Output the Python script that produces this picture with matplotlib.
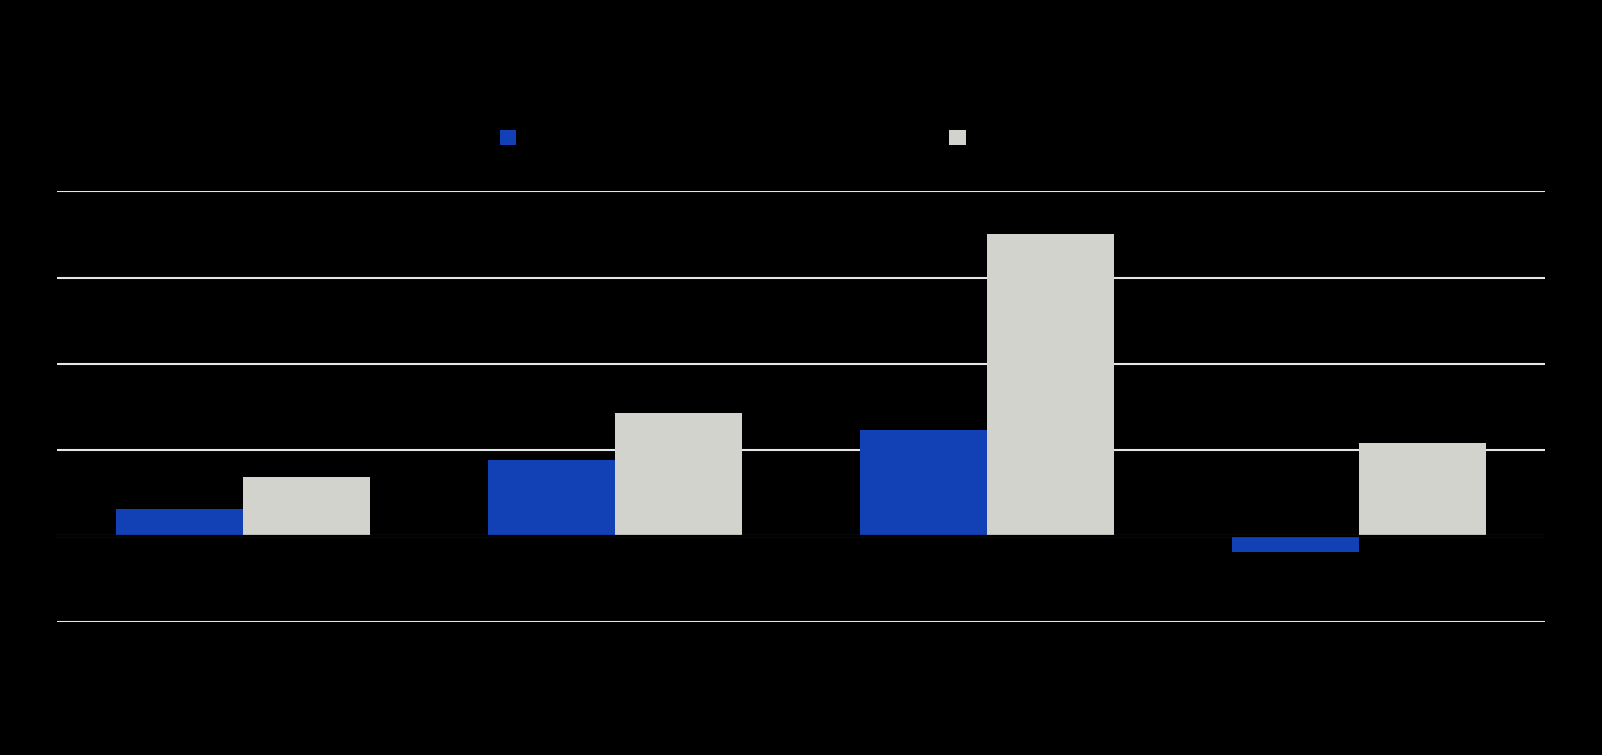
import matplotlib
matplotlib.use("Agg")
import matplotlib.pyplot as plt
import numpy as np

# data (text in the reference is black on black)
categories = ["Q1", "Q2", "Q3", "Q4"]
series_names = ["Series A", "Series B"]
series_a = [1.56, 4.41, 6.19, -0.89]
series_b = [3.46, 7.14, 17.56, 5.42]
yticks = [-5, 0, 5, 10, 15, 20]

BLUE = "#1141b4"
GREY = "#d2d3cc"
BG = "#000000"
TXT = "#000000"

fig = plt.figure(figsize=(16.02, 7.55), dpi=100, facecolor=BG)
ax = fig.add_axes([0.0356, 0.1756, 0.9288, 0.5708], facecolor=BG)

x = np.arange(len(categories))
w = 0.342
ax.bar(x - w / 2, series_a, width=w, color=BLUE, label=series_names[0], zorder=3)
ax.bar(x + w / 2, series_b, width=w, color=GREY, label=series_names[1], zorder=3)

ax.set_xlim(-0.5, len(categories) - 0.5)
ax.set_ylim(yticks[0], yticks[-1])
ax.set_yticks(yticks)
ax.set_yticklabels([])
ax.tick_params(axis="both", length=0)
ax.grid(axis="y", color="#e6e6e6", linewidth=1.5, zorder=1)
ax.axhline(0, color=BG, linewidth=1.6, zorder=4)
for s in ax.spines.values():
    s.set_visible(False)

# y labels sit just above each gridline on the left
for t in yticks:
    ax.text(0.0, t, str(t), transform=ax.get_yaxis_transform(),
            ha="left", va="bottom", fontsize=11, color=TXT)

ax.set_xticks(x)
ax.set_xticklabels(categories, fontsize=12, color=TXT)

fig.text(0.0356, 0.93, "Chart title", fontsize=18, color=TXT, ha="left")

leg = fig.legend(loc="center left", bbox_to_anchor=(0.312, 0.817), ncol=2,
                 frameon=False, handlelength=1.0, handleheight=1.0,
                 handletextpad=0.6, columnspacing=21.3, fontsize=12,
                 borderaxespad=0, borderpad=0)
for t in leg.get_texts():
    t.set_color(TXT)

fig.savefig("out.png", dpi=100, facecolor=BG)
